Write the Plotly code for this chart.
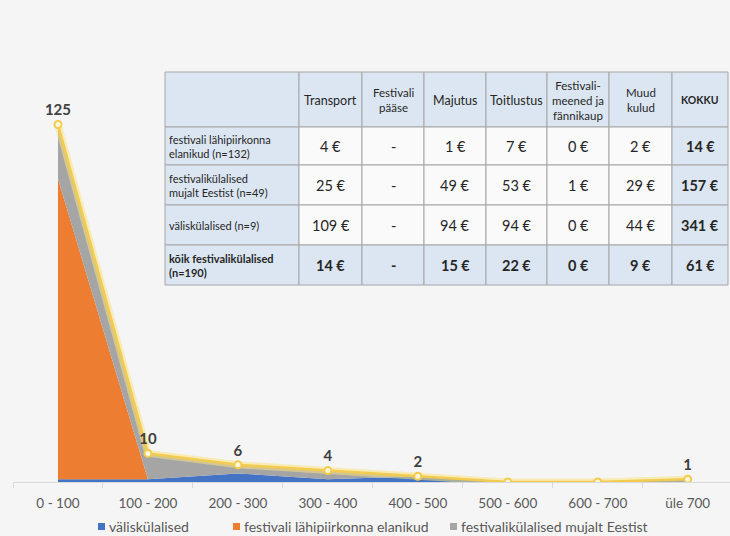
import plotly.graph_objects as go

# ---------------- data ----------------
categories = ["0 - 100", "100 - 200", "200 - 300", "300 - 400",
              "400 - 500", "500 - 600", "600 - 700", "üle 700"]
valiskulalised = [1, 1, 3, 1, 2, 0, 0, 1]
lahipiirkond = [105, 0, 0, 0, 0, 0, 0, 0]
mujalt_eestist = [19, 9, 3, 3, 0, 0, 0, 0]
total = [a + b + c for a, b, c in zip(valiskulalised, lahipiirkond, mujalt_eestist)]
total_labels = ["125", "10", "6", "4", "2", "", "", "1"]

series_names = ["väliskülalised", "festivali lähipiirkonna elanikud",
                "festivalikülalised mujalt Eestist"]

table_header = ["", "Transport", "Festivali<br>pääse", "Majutus", "Toitlustus",
                "Festivali-<br>meened ja<br>fännikaup", "Muud<br>kulud", "<b>KOKKU</b>"]
table_rows = ["festivali lähipiirkonna<br>elanikud (n=132)",
              "festivalikülalised<br>mujalt Eestist (n=49)",
              "väliskülalised (n=9)",
              "<b>kõik festivalikülalised<br>(n=190)</b>"]
table_values = [
    ["4 €", "-", "1 €", "7 €", "0 €", "2 €", "14 €"],
    ["25 €", "-", "49 €", "53 €", "1 €", "29 €", "157 €"],
    ["109 €", "-", "94 €", "94 €", "0 €", "44 €", "341 €"],
    ["14 €", "-", "15 €", "22 €", "0 €", "9 €", "61 €"],
]

# ---------------- style ----------------
W, H = 730, 536
ML, MR, MT, MB = 13, 0, 53, 54
PW, PH = W - ML - MR, H - MT - MB
FONT = "Lato"
BLUE, ORANGE, GRAY, YELLOW = "#4472C4", "#ED7D31", "#A5A5A5", "#F3CB4E"
BG = "#F5F5F5"
LIGHTBLUE = "#DCE6F2"
CELLWHITE = "#FAFAFA"
BORDER = "#A6A6A6"
TXT = "#595959"


def px_x(p):
    return (p - ML) / PW


def px_y(p):
    return (H - MB - p) / PH


fig = go.Figure()

for vals, name, col in [(valiskulalised, series_names[0], BLUE),
                        (lahipiirkond, series_names[1], ORANGE),
                        (mujalt_eestist, series_names[2], GRAY)]:
    fig.add_trace(go.Scatter(x=categories, y=vals, name=name, stackgroup="one",
                             mode="none", fillcolor=col, line=dict(width=0),
                             showlegend=False, hoverinfo="skip"))

# glow under total line
fig.add_trace(go.Scatter(x=categories, y=total, mode="lines",
                         line=dict(color="rgba(250,225,130,0.55)", width=7),
                         showlegend=False, hoverinfo="skip"))
fig.add_trace(go.Scatter(x=categories, y=total, mode="lines+markers+text",
                         line=dict(color=YELLOW, width=2.5),
                         marker=dict(size=7, color="#FFF8DC",
                                     line=dict(color=YELLOW, width=2)),
                         text=total_labels, textposition="top center",
                         textfont=dict(family=FONT, size=15, color="#404040", weight="bold"),
                         showlegend=False, name="kokku"))

shapes = []
annotations = []

# ---------------- legend (Excel-like small squares) ----------------
legend_x = [98, 233, 450]
for name, col, lx in zip(series_names, [BLUE, ORANGE, GRAY], legend_x):
    shapes.append(dict(type="rect", xref="paper", yref="paper",
                       x0=px_x(lx), x1=px_x(lx + 7), y0=px_y(530), y1=px_y(523),
                       fillcolor=col, line=dict(width=0)))
    annotations.append(dict(x=px_x(lx + 9), y=px_y(526.5), xref="paper", yref="paper",
                            text=name, showarrow=False, xanchor="left", yanchor="middle",
                            font=dict(family=FONT, size=14, color=TXT)))

# ---------------- table overlay ----------------
col_edges = [165, 299, 362, 424, 486, 547, 609, 672, 728]
row_edges = [72, 127, 165, 205, 245, 285]
n_rows = len(table_rows) + 1
n_cols = len(table_header)
for r in range(n_rows):
    for c in range(n_cols):
        x0, x1 = col_edges[c], col_edges[c + 1]
        y0, y1 = row_edges[r], row_edges[r + 1]
        if r == 0 or c == 0 or r == n_rows - 1 or c == n_cols - 1:
            fill = LIGHTBLUE
        else:
            fill = CELLWHITE
        shapes.append(dict(type="rect", xref="paper", yref="paper",
                           x0=px_x(x0), x1=px_x(x1), y0=px_y(y1), y1=px_y(y0),
                           fillcolor=fill, line=dict(color=BORDER, width=1),
                           layer="above"))
        xc = (x0 + x1) / 2
        yc = (y0 + y1) / 2
        if r == 0:
            txt = table_header[c]
            if not txt:
                continue
            size = 12.5 if "<br>" not in txt else 11.5
            if "KOKKU" in txt:
                size = 10.5
            annotations.append(dict(x=px_x(xc), y=px_y(yc + 1), xref="paper", yref="paper",
                                    text=txt, showarrow=False, xanchor="center",
                                    yanchor="middle", align="center",
                                    font=dict(family=FONT, size=size, color="#262626")))
        elif c == 0:
            annotations.append(dict(x=px_x(x0 + 2), y=px_y(yc), xref="paper", yref="paper",
                                    text=table_rows[r - 1], showarrow=False, xanchor="left",
                                    yanchor="middle", align="left",
                                    font=dict(family=FONT, size=11, color="#262626")))
        else:
            txt = table_values[r - 1][c - 1]
            if r == n_rows - 1 or c == n_cols - 1:
                txt = "<b>" + txt + "</b>"
            annotations.append(dict(x=px_x(xc), y=px_y(yc), xref="paper", yref="paper",
                                    text=txt, showarrow=False, xanchor="center",
                                    yanchor="middle", align="center",
                                    font=dict(family=FONT, size=14.5, color="#262626")))

fig.update_layout(
    width=W, height=H,
    margin=dict(l=ML, r=MR, t=MT, b=MB),
    paper_bgcolor=BG, plot_bgcolor=BG,
    font=dict(family=FONT, color=TXT),
    shapes=shapes, annotations=annotations,
    showlegend=False,
    xaxis=dict(type="category", range=[-0.5, 7.47], showgrid=False,
               showline=True, linecolor="#D9D9D9", linewidth=1,
               ticks="outside", tickson="boundaries", ticklen=5, tickcolor="#D9D9D9",
               ticklabelstandoff=9,
               tickfont=dict(family=FONT, size=13.5, color=TXT), zeroline=False,
               fixedrange=True),
    yaxis=dict(range=[0, 150], showgrid=False, showticklabels=False, zeroline=False,
               showline=False, fixedrange=True),
)

fig.write_html("out.html", config={"displayModeBar": False},
               post_script="document.body.style.margin='0px';"
                           "document.body.style.overflow='hidden';")
